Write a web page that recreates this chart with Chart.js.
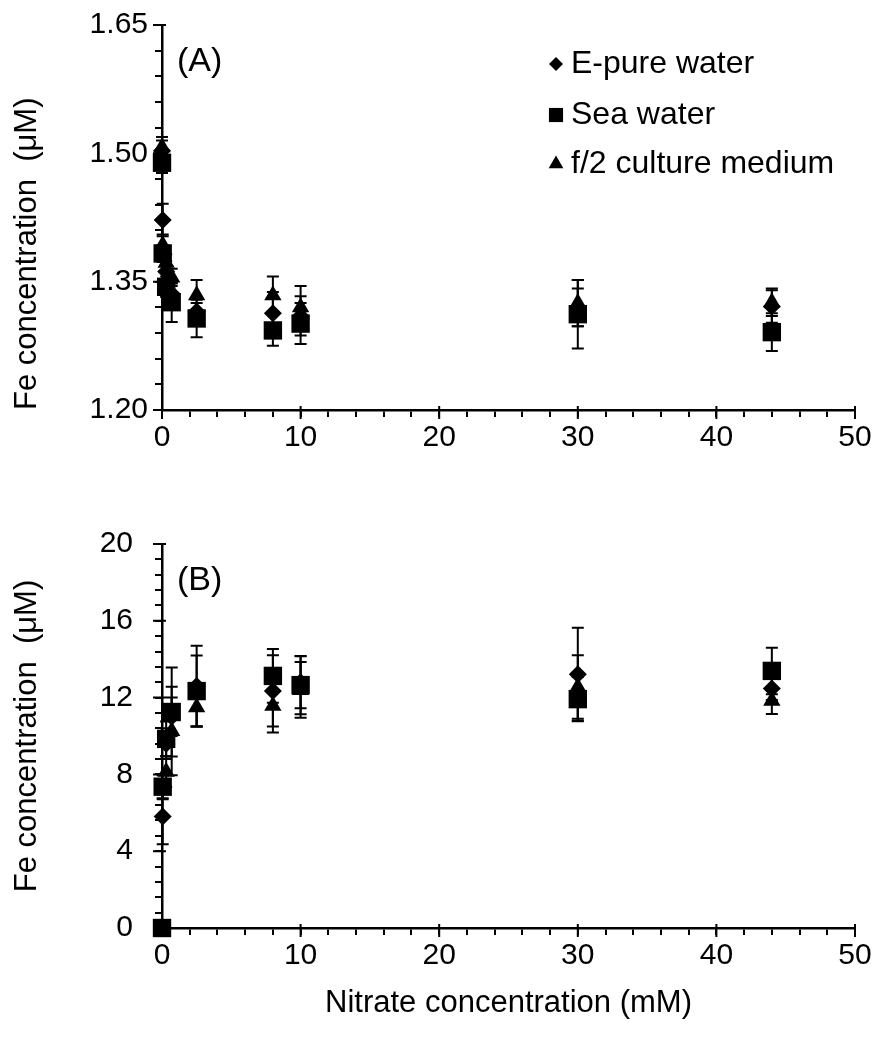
<!DOCTYPE html>
<html>
<head>
<meta charset="utf-8">
<script src="https://cdn.jsdelivr.net/npm/chart.js@4.4.0/dist/chart.umd.min.js"></script>
<style>
  body { margin: 0; background: #fff; }
  #panelA { position: absolute; left: 0; top: 0; width: 877px; height: 490px; }
  #panelB { position: absolute; left: 0; top: 490px; width: 877px; height: 551px; }
</style>
</head>
<body>
<div id="panelA"><canvas id="chartA"></canvas></div>
<div id="panelB"><canvas id="chartB"></canvas></div>
<script>
// nitrate concentration (mM)
var nitrate = [0, 0.05, 0.3, 0.7, 2.5, 8, 10, 30, 44];
var seriesNames = ['E-pure water', 'Sea water', 'f/2 culture medium'];

// panel (A) Fe concentration (uM)
var pureA = [1.503, 1.422, 1.362, 1.336, 1.315, 1.313, 1.310, 1.320, 1.321];
var seaA  = [1.489, 1.383, 1.344, 1.326, 1.307, 1.293, 1.301, 1.312, 1.291];
var f2A   = [1.507, 1.393, 1.372, 1.355, 1.334, 1.334, 1.320, 1.325, 1.326];
var pureAErr = [0.012, 0.019, 0.012, 0.012, 0.010, 0.025, 0.023, 0.022, 0.019];
var seaAErr  = [0.012, 0.010, 0.012, 0.023, 0.022, 0.018, 0.024, 0.040, 0.022];
var f2AErr   = [0.012, 0.012, 0.010, 0.010, 0.018, 0.022, 0.025, 0.027, 0.016];

// panel (B) Fe concentration (uM)
var pureB = [0, 5.81, 9.6, 11.0, 12.6, 12.35, 12.8, 13.22, 12.48];
var seaB  = [0, 7.36, 9.85, 11.25, 12.34, 13.13, 12.65, 11.92, 13.39];
var f2B   = [0, 7.2, 8.14, 10.26, 11.5, 11.58, 12.4, 12.55, 11.84];
var pureBErr = [0, 1.45, 0.8, 1.0, 2.1, 1.85, 1.35, 2.42, 0.6];
var seaBErr  = [0, 0.6, 0.9, 2.32, 1.85, 1.4, 1.52, 1.15, 1.21];
var f2BErr   = [0, 0.5, 0.8, 2.3, 1.0, 1.4, 1.45, 1.65, 0.69];

var FONT = '"Liberation Sans", Arial, sans-serif';

function isMajor(v, step) {
    return Math.abs(v / step - Math.round(v / step)) < 1e-6;
}

function makeSet(label, ys, errs, style, radius, order) {
    return {
        label: label,
        data: nitrate.map(function (x, i) { return { x: x, y: ys[i] }; }),
        errors: errs,
        pointStyle: style,
        pointRadius: radius,
        pointHoverRadius: radius,
        backgroundColor: '#000',
        borderColor: '#000',
        borderWidth: 0,
        showLine: false,
        clip: false,
        order: order
    };
}

var errorBarPlugin = {
    id: 'errorBars',
    beforeDatasetsDraw: function (chart) {
        var ctx = chart.ctx;
        var yScale = chart.scales.y;
        ctx.save();
        ctx.strokeStyle = '#000';
        ctx.lineWidth = 2;
        chart.data.datasets.forEach(function (ds, i) {
            var meta = chart.getDatasetMeta(i);
            meta.data.forEach(function (pt, j) {
                var e = ds.errors[j];
                if (!e) return;
                var v = ds.data[j].y;
                var top = yScale.getPixelForValue(v + e);
                var bot = yScale.getPixelForValue(v - e);
                ctx.beginPath();
                ctx.moveTo(pt.x, top); ctx.lineTo(pt.x, bot);
                ctx.moveTo(pt.x - 6, top); ctx.lineTo(pt.x + 6, top);
                ctx.moveTo(pt.x - 6, bot); ctx.lineTo(pt.x + 6, bot);
                ctx.stroke();
            });
        });
        ctx.restore();
    }
};

// longer, crossing tick marks for the labelled values
var majorTickPlugin = {
    id: 'majorTicks',
    afterDraw: function (chart, args, opts) {
        var ctx = chart.ctx, area = chart.chartArea;
        var xs = chart.scales.x, ys = chart.scales.y;
        ctx.save();
        ctx.strokeStyle = '#000';
        ctx.lineWidth = 2;
        ctx.beginPath();
        xs.ticks.forEach(function (t) {
            if (!isMajor(t.value, opts.xMajor)) return;
            var px = xs.getPixelForValue(t.value);
            ctx.moveTo(px, area.bottom - 4); ctx.lineTo(px, area.bottom + 9);
        });
        ys.ticks.forEach(function (t) {
            if (!isMajor(t.value, opts.yMajor)) return;
            var py = ys.getPixelForValue(t.value);
            ctx.moveTo(area.left + 4, py); ctx.lineTo(area.left - 9, py);
        });
        ctx.stroke();
        ctx.restore();
    }
};

function drawMarker(ctx, style, x, y, r) {
    ctx.beginPath();
    if (style === 'rectRot') {
        ctx.moveTo(x, y - r); ctx.lineTo(x + r, y); ctx.lineTo(x, y + r); ctx.lineTo(x - r, y);
    } else if (style === 'rect') {
        var s = r * Math.SQRT1_2;
        ctx.rect(x - s, y - s, 2 * s, 2 * s);
    } else {
        ctx.moveTo(x, y - r);
        ctx.lineTo(x + r * 0.866, y + r * 0.5);
        ctx.lineTo(x - r * 0.866, y + r * 0.5);
    }
    ctx.closePath();
    ctx.fill();
}

var annotatePlugin = {
    id: 'annotate',
    afterDraw: function (chart, args, opts) {
        var ctx = chart.ctx, area = chart.chartArea;
        ctx.save();
        ctx.fillStyle = '#000';
        ctx.textBaseline = 'middle';
        ctx.textAlign = 'left';
        ctx.font = '34px ' + FONT;
        ctx.fillText(opts.label, area.left + 15, area.top + 37);
        if (opts.legend) {
            var rows = [39, 90, 139];
            var styles = [['rectRot', 7], ['rect', 10], ['triangle', 8.5]];
            ctx.font = '32px ' + FONT;
            seriesNames.forEach(function (name, i) {
                var y = area.top + rows[i];
                drawMarker(ctx, styles[i][0], 556, y, styles[i][1]);
                ctx.fillText(name, 571, y);
            });
        }
        ctx.restore();
    }
};

function makeOptions(cfg) {
    return {
        responsive: true,
        maintainAspectRatio: false,
        animation: false,
        layout: { padding: { top: cfg.padTop, right: 22, left: 0, bottom: 0 } },
        plugins: {
            legend: { display: false },
            tooltip: { enabled: false },
            majorTicks: { xMajor: 10, yMajor: cfg.yMajor },
            annotate: { label: cfg.label, legend: cfg.legend }
        },
        scales: {
            x: {
                type: 'linear',
                min: 0, max: 50,
                afterFit: function (s) { s.height = cfg.xHeight; },
                border: { color: '#000', width: 2.5 },
                grid: { drawOnChartArea: false, color: '#000', lineWidth: 2, tickLength: 7 },
                ticks: {
                    stepSize: 2, autoSkip: false, maxRotation: 0, padding: 3,
                    color: '#000', font: { family: FONT, size: 30 },
                    callback: function (v) { return isMajor(v, 10) ? String(Math.round(v)) : ''; }
                },
                title: {
                    display: cfg.xTitle,
                    text: 'Nitrate concentration (mM)',
                    color: '#000', font: { family: FONT, size: 31 },
                    padding: { top: 0, bottom: 19 }
                }
            },
            y: {
                type: 'linear',
                min: cfg.yMin, max: cfg.yMax,
                afterFit: function (s) { s.width = 162; },
                border: { color: '#000', width: 2.5 },
                grid: { drawOnChartArea: false, color: '#000', lineWidth: 2, tickLength: 7 },
                ticks: {
                    stepSize: cfg.yMinor, autoSkip: false, padding: cfg.yPad,
                    color: '#000', font: { family: FONT, size: 30 },
                    callback: function (v) {
                        return isMajor(v, cfg.yMajor) ? v.toFixed(cfg.digits) : '';
                    }
                },
                title: {
                    display: true,
                    align: cfg.titleAlign,
                    text: 'Fe concentration  (\u03bcM)',
                    color: '#000', font: { family: FONT, size: 31 },
                    padding: { top: 9, bottom: 0 }
                }
            }
        }
    };
}

new Chart(document.getElementById('chartA'), {
    type: 'scatter',
    data: {
        datasets: [
            makeSet(seriesNames[0], pureA, pureAErr, 'rectRot', 9, 3),
            makeSet(seriesNames[1], seaA, seaAErr, 'rect', 13, 2),
            makeSet(seriesNames[2], f2A, f2AErr, 'triangle', 10, 1)
        ]
    },
    options: makeOptions({
        padTop: 23, xHeight: 80, xTitle: false, titleAlign: 'start',
        yMin: 1.2, yMax: 1.65, yMinor: 0.03, yMajor: 0.15, digits: 2, yPad: 7,
        label: '(A)', legend: true
    }),
    plugins: [errorBarPlugin, majorTickPlugin, annotatePlugin]
});

new Chart(document.getElementById('chartB'), {
    type: 'scatter',
    data: {
        datasets: [
            makeSet(seriesNames[0], pureB, pureBErr, 'rectRot', 9, 3),
            makeSet(seriesNames[1], seaB, seaBErr, 'rect', 13, 2),
            makeSet(seriesNames[2], f2B, f2BErr, 'triangle', 10, 1)
        ]
    },
    options: makeOptions({
        padTop: 54, xHeight: 113, xTitle: true, titleAlign: 'center',
        yMin: 0, yMax: 20, yMinor: 0.8, yMajor: 4, digits: 0, yPad: 22,
        label: '(B)', legend: false
    }),
    plugins: [errorBarPlugin, majorTickPlugin, annotatePlugin]
});
</script>
</body>
</html>
